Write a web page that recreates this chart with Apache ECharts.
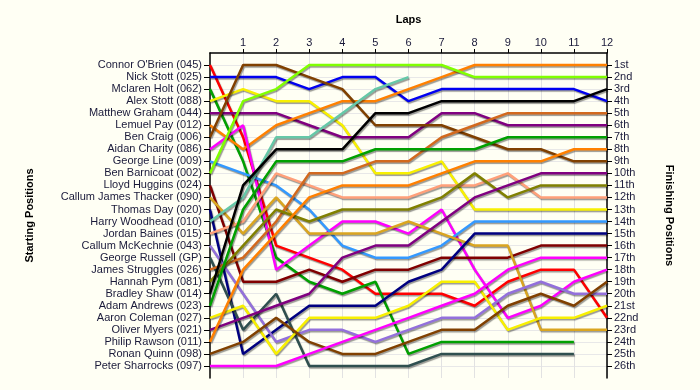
<!DOCTYPE html>
<html>
<head>
<meta charset="utf-8">
<script src="https://cdn.jsdelivr.net/npm/echarts@6/dist/echarts.min.js"></script>
<style>
html,body{margin:0;padding:0;background:#FFFFF4;}
#c{width:700px;height:390px;}
</style>
</head>
<body>
<div id="c"></div>
<script>
// ---- data ----
const laps = [0,1,2,3,4,5,6,7,8,9,10,11,12];
const lapLabels = ['', '1','2','3','4','5','6','7','8','9','10','11','12'];
const drivers = [
  "Connor O'Brien (045)", "Nick Stott (025)", "Mclaren Holt (062)", "Alex Stott (088)",
  "Matthew Graham (044)", "Lemuel Pay (012)", "Ben Craig (006)", "Aidan Charity (086)",
  "George Line (009)", "Ben Barnicoat (002)", "Lloyd Huggins (024)", "Callum James Thacker (090)",
  "Thomas Day (020)", "Harry Woodhead (010)", "Jordan Baines (015)", "Callum McKechnie (043)",
  "George Russell (GP)", "James Struggles (026)", "Hannah Pym (081)", "Bradley Shaw (014)",
  "Adam Andrews (023)", "Aaron Coleman (027)", "Oliver Myers (021)", "Philip Rawson (011)",
  "Ronan Quinn (098)", "Peter Sharrocks (097)"
];
const finishLabels = ['1st','2nd','3rd','4th','5th','6th','7th','8th','9th','10th','11th','12th','13th',
  '14th','15th','16th','17th','18th','19th','20th','21st','22nd','23rd','24th','25th','26th'];

// position of each driver at laps 0..12 (null = retired)
const posConnorOBrien     = [1,7,16,17,18,20,20,20,21,19,18,18,22];
const posNickStott        = [2,2,2,3,2,2,4,3,3,3,3,3,4];
const posMclarenHolt      = [3,9,17,19,20,19,25,24,24,24,24,24,null];
const posAlexStott        = [4,3,4,4,6,10,10,9,13,13,13,13,13];
const posMatthewGraham    = [5,5,5,6,7,7,7,5,5,6,6,6,6];
const posLemuelPay        = [6,8,6,5,4,4,3,2,1,1,1,1,1];
const posBenCraig         = [7,1,1,2,3,6,6,6,7,8,8,9,9];
const posAidanCharity     = [8,6,18,16,14,14,15,13,18,22,21,19,18];
const posGeorgeLine       = [9,10,11,13,16,17,17,16,14,14,14,14,14];
const posBenBarnicoat     = [10,4,3,1,1,1,1,1,2,2,2,2,2];
const posLloydHuggins     = [11,19,19,18,19,18,18,17,17,17,16,16,16];
const posCallumThacker    = [12,15,12,15,15,15,14,15,16,16,23,23,23];
const posThomasDay        = [13,25,23,21,21,21,19,18,15,15,15,15,15];
const posHarryWoodhead    = [14,12,7,7,5,3,2,null,null,null,null,null,null];
const posJordanBaines     = [15,14,10,11,12,12,12,11,11,10,12,12,12];
const posCallumMcKechnie  = [16,20,24,23,23,24,23,22,22,20,19,20,20];
const posGeorgeRussell    = [17,23,20,26,26,26,26,25,25,25,25,25,null];
const posJamesStruggles   = [18,17,14,10,10,9,9,7,6,5,5,5,5];
const posHannahPym        = [19,16,13,14,13,13,13,12,10,12,11,11,11];
const posBradleyShaw      = [20,11,8,8,8,5,5,4,4,4,4,4,3];
const posAdamAndrews      = [21,13,9,9,9,8,8,8,8,7,7,7,7];
const posAaronColeman     = [22,21,25,22,22,22,21,19,19,23,22,22,21];
const posOliverMyers      = [23,22,21,20,17,16,16,14,12,11,10,10,10];
const posPhilipRawson     = [24,18,15,12,11,11,11,10,9,9,9,8,8];
const posRonanQuinn       = [25,24,22,24,25,25,24,23,23,21,20,21,19];
const posPeterSharrocks   = [26,26,26,25,24,23,22,21,20,18,17,17,17];

const positions = [
  posConnorOBrien, posNickStott, posMclarenHolt, posAlexStott, posMatthewGraham, posLemuelPay,
  posBenCraig, posAidanCharity, posGeorgeLine, posBenBarnicoat, posLloydHuggins, posCallumThacker,
  posThomasDay, posHarryWoodhead, posJordanBaines, posCallumMcKechnie, posGeorgeRussell,
  posJamesStruggles, posHannahPym, posBradleyShaw, posAdamAndrews, posAaronColeman,
  posOliverMyers, posPhilipRawson, posRonanQuinn, posPeterSharrocks
];

// ---- styles ----
const lineColors = [
  '#FF0000','#0000F0','#00A000','#F8F000','#800080','#FF8000','#804000','#FF00FF',
  '#3399FF','#80FF00','#800000','#DAA520','#000080','#66C8A8','#FFA07A','#9370DB',
  '#2F4F4F','#D2691E','#808000','#000000',
  '#00A000','#F8F000','#800080','#FF8000','#804000','#FF00FF'
];

const positionTicks = drivers.map((d, i) => i + 1);
const lapTicks = laps.filter(l => l > 0);
const txtColor = '#1a1a3a';
const fontFamily = '"Liberation Sans", Arial, sans-serif';

const series = drivers.map((name, i) => ({
  type: 'line',
  name: name,
  symbol: 'none',
  silent: true,
  data: laps.map((l, j) => positions[i][j] == null ? null : [l, positions[i][j]]).filter(p => p !== null),
  lineStyle: {
    color: lineColors[i],
    width: 2.5,
    shadowColor: 'rgba(0,0,0,0.4)',
    shadowBlur: 1,
    shadowOffsetX: 1,
    shadowOffsetY: 1.5
  },
  itemStyle: { color: lineColors[i] }
}));

const chart = echarts.init(document.getElementById('c'), null, { renderer: 'canvas' });
chart.setOption({
  backgroundColor: '#FFFFF4',
  animation: false,
  textStyle: { fontFamily: fontFamily },
  grid: { left: 210, right: 93, top: 53, bottom: 12, containLabel: false },
  xAxis: {
    type: 'value', position: 'top', min: 0, max: 12, interval: 1,
    name: 'Laps', nameLocation: 'middle', nameGap: 28,
    nameTextStyle: { fontWeight: 'bold', fontSize: 11, color: '#000', fontFamily: fontFamily },
    axisLine: { show: true, lineStyle: { color: '#000', width: 1.5 } },
    axisTick: { show: true, length: 4, lineStyle: { color: '#000' }, customValues: lapTicks },
    axisLabel: { fontSize: 11, color: txtColor, margin: 5, customValues: lapTicks,
      formatter: v => lapLabels[v] },
    splitLine: { show: true, lineStyle: { color: '#E2E2E2', width: 1 } }
  },
  yAxis: [
    {
      type: 'value', position: 'left', inverse: true, min: 0, max: 27, interval: 1,
      name: 'Starting Positions', nameLocation: 'middle', nameGap: 175, nameRotate: 90,
      nameTextStyle: { fontWeight: 'bold', fontSize: 11, color: '#000', fontFamily: fontFamily },
      axisLine: { show: true, lineStyle: { color: '#000', width: 1.5 } },
      axisTick: { show: true, length: 6, lineStyle: { color: '#000' }, customValues: positionTicks },
      axisLabel: { fontSize: 11, color: txtColor, margin: 8, customValues: positionTicks,
        formatter: v => drivers[v - 1] || '' },
      splitLine: { show: true, lineStyle: { color: '#E8E8E8', width: 1 } }
    },
    {
      type: 'value', position: 'right', inverse: true, min: 0, max: 27, interval: 1,
      name: 'Finishing Positions', nameLocation: 'middle', nameGap: 57, nameRotate: -90,
      nameTextStyle: { fontWeight: 'bold', fontSize: 11, color: '#000', fontFamily: fontFamily },
      axisLine: { show: true, lineStyle: { color: '#000', width: 1.5 } },
      axisTick: { show: true, length: 5, lineStyle: { color: '#000' }, customValues: positionTicks },
      axisLabel: { fontSize: 11, color: txtColor, margin: 7, customValues: positionTicks,
        formatter: v => finishLabels[v - 1] || '' },
      splitLine: { show: false }
    }
  ],
  series: series
});
</script>
</body>
</html>
